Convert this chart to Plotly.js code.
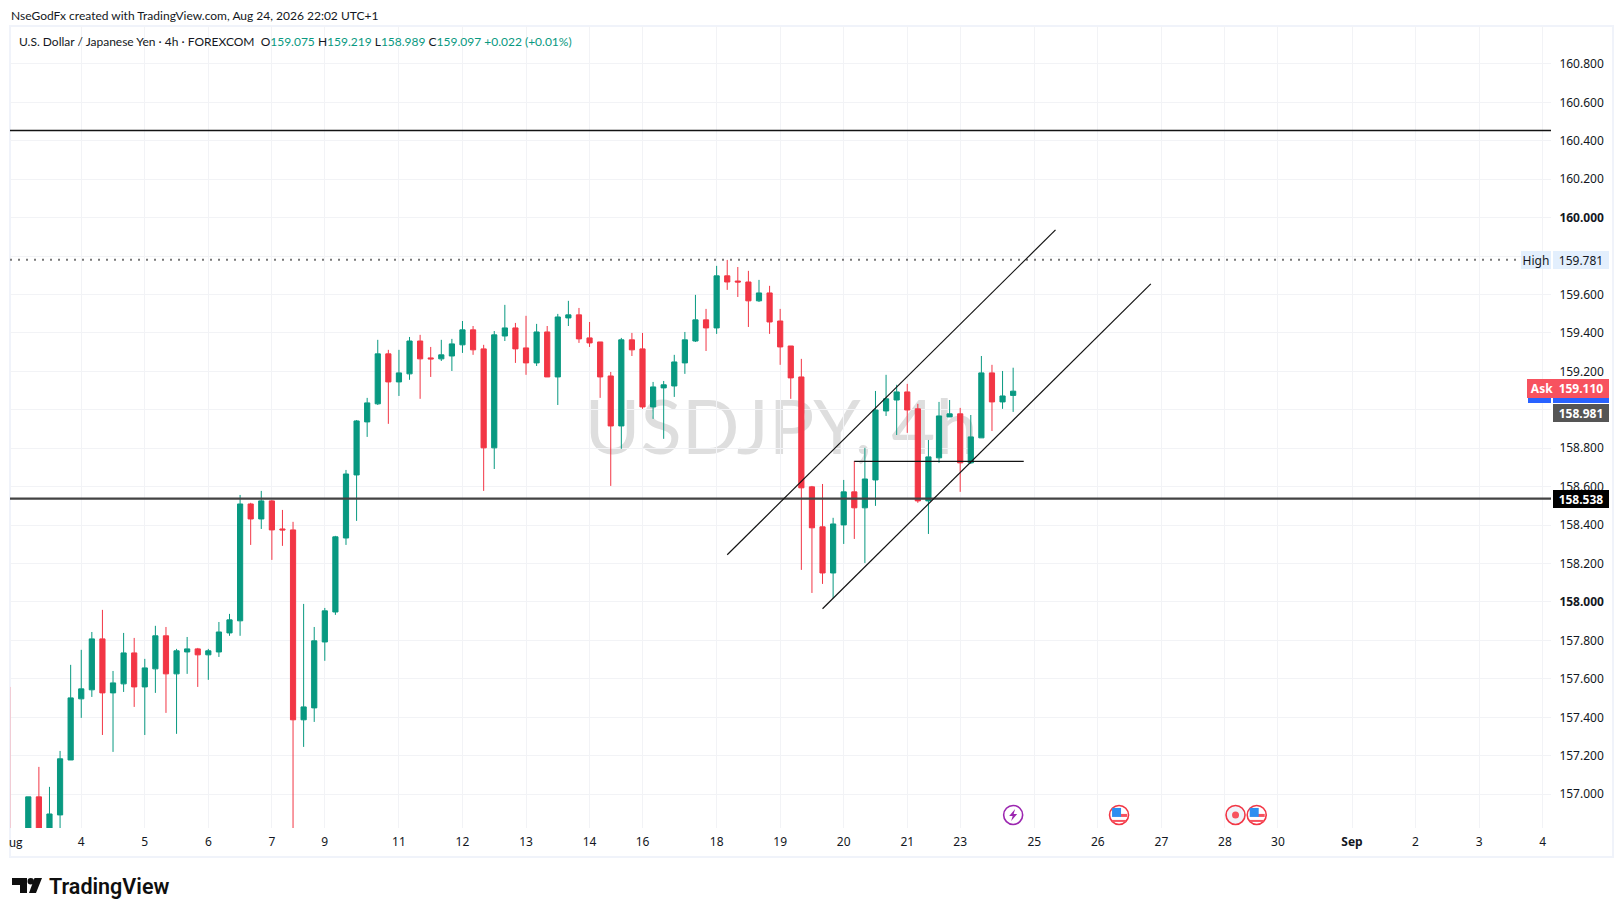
<!DOCTYPE html>
<html><head><meta charset="utf-8">
<script src="https://cdn.plot.ly/plotly-3.0.1.min.js"></script>
<style>html,body{margin:0;padding:0;background:#fff}#c{width:1623px;height:916px}</style>
</head><body><div id="c"></div>
<script>
const candleIndex=[-2,0,1,2,3,4,5,6,7,8,9,10,11,12,13,14,15,16,17,18,19,20,21,22,23,24,25,26,27,28,29,30,31,32,33,34,35,36,37,38,39,40,41,42,43,44,45,46,47,48,49,50,51,52,53,54,55,56,57,58,59,60,61,62,63,64,65,66,67,68,69,70,71,72,73,74,75,76,77,78,79,80,81,82,83,84,85,86,87,88,89,90,91,92,93];
const opens=[157.558,156.72,156.986,156.75,156.892,157.178,157.496,157.543,157.808,157.527,157.574,157.735,157.558,157.652,157.824,157.626,157.740,157.756,157.725,157.740,157.839,157.902,158.510,158.432,158.526,158.380,158.375,157.387,157.449,157.792,157.948,158.333,158.661,158.937,159.031,159.291,159.145,159.187,159.358,159.270,159.265,159.280,159.338,159.416,159.317,158.802,159.384,159.426,159.322,159.244,159.405,159.171,159.478,159.494,159.374,159.353,159.176,158.916,159.364,159.317,159.015,159.114,159.124,159.244,159.358,159.468,159.426,159.697,159.670,159.665,159.567,159.608,159.462,159.332,159.171,158.599,158.391,158.151,158.401,158.573,158.490,158.635,158.994,159.051,159.093,159.005,158.526,158.750,158.963,158.979,158.724,158.854,159.192,159.041,159.075];
const highs=[157.558,156.986,157.142,157.038,157.225,157.673,157.751,157.844,157.959,157.641,157.839,157.813,157.704,157.876,157.870,157.756,157.818,157.761,157.756,157.896,157.938,158.557,158.516,158.578,158.531,158.479,158.417,157.990,157.870,157.969,158.344,158.687,158.947,159.062,159.364,159.312,159.312,159.379,159.390,159.327,159.364,159.369,159.462,159.436,159.338,159.410,159.546,159.452,159.489,159.447,159.436,159.499,159.567,159.530,159.457,159.353,159.197,159.374,159.400,159.400,159.145,159.150,159.286,159.405,159.598,159.525,159.749,159.780,159.743,159.723,159.676,159.645,159.525,159.332,159.265,158.604,158.614,158.438,158.635,158.734,158.802,159.098,159.182,159.130,159.135,159.031,158.843,159.041,159.051,159.010,158.973,159.280,159.234,159.202,159.219];
const lows=[156.70,156.70,156.72,156.72,156.78,157.178,157.397,157.506,157.308,157.220,157.532,157.454,157.308,157.527,157.423,157.314,157.626,157.558,157.595,157.714,157.824,157.824,158.297,158.380,158.219,158.292,156.78,157.246,157.376,157.694,157.933,158.297,158.422,158.859,159.025,158.927,159.072,159.156,159.057,159.171,159.254,159.202,159.296,159.286,158.578,158.692,159.358,159.244,159.182,159.228,159.171,159.025,159.436,159.348,159.327,159.062,158.604,158.797,159.280,159.005,158.953,158.849,159.067,159.187,159.353,159.306,159.395,159.624,159.587,159.431,159.561,159.395,159.234,159.057,158.167,158.047,158.094,158.021,158.302,158.328,158.203,158.500,158.968,158.869,158.880,158.516,158.354,158.724,158.963,158.573,158.718,158.854,158.890,159.005,158.989];
const closes=[156.72,156.986,156.75,156.897,157.184,157.501,157.548,157.808,157.527,157.579,157.735,157.558,157.657,157.824,157.626,157.746,157.756,157.725,157.746,157.844,157.907,158.510,158.432,158.526,158.375,158.375,157.387,157.454,157.798,157.954,158.339,158.666,158.942,159.036,159.291,159.145,159.192,159.358,159.265,159.265,159.286,159.343,159.416,159.312,158.802,159.390,159.426,159.317,159.244,159.405,159.171,159.483,159.494,159.369,159.348,159.171,158.916,159.364,159.312,159.015,159.119,159.130,159.249,159.364,159.468,159.426,159.697,159.665,159.665,159.567,159.608,159.457,159.327,159.166,158.594,158.386,158.151,158.406,158.573,158.490,158.640,158.999,159.057,159.093,158.999,158.526,158.755,158.968,158.979,158.724,158.859,159.192,159.041,159.072,159.097];

const xTickIndex=[5,11,17,23,28,35,41,47,53,58,65,71,77,83,88,95,101,107,113,118,125,131,137,143];
const xTickText=['4','5','6','7','9','11','12','13','14','16','18','19','20','21','23','25','26','27','28','30','<b>Sep</b>','2','3','4'];
const yTicks=[157,157.2,157.4,157.6,157.8,158,158.2,158.4,158.6,158.8,159,159.2,159.4,159.6,159.8,160,160.2,160.4,160.6,160.8];
const yTickText=['157.000','157.200','157.400','157.600','157.800','<b>158.000</b>','158.200','158.400','158.600','158.800','','159.200','159.400','159.600','','<b>160.000</b>','160.200','160.400','160.600','160.800'];

const supportLevel=158.538, resistanceLevel=160.453, highLevel=159.781, shortLevel=158.732;
const upperChannel={i0:66,p0:158.246,i1:97,p1:159.936};
const lowerChannel={i0:75,p0:157.965,i1:106,p1:159.655};
const eventIndex={bolt:93,flagA:103,dot:114,flagB:116};
const eventPrice=156.892;

const W=1623,H=916,L=10,R=72,T=26,B=88;
const px=x=>(x-L)/(W-L-R), py=y=>1-(y-T)/(H-T-B);
const GRID='#f2f3f6', GREEN='#089981', RED='#f23645', INK='#131722';
const FONT='Lato, sans-serif';
const NUMFONT='"Noto Sans", sans-serif';

const line=(i0,p0,i1,p1,color,width,dash)=>({type:'line',xref:'x',yref:'y',x0:i0,x1:i1,y0:p0,y1:p1,line:{color,width,dash:dash||'solid'}});
const fullLine=(p,color,width,dash,endPx)=>({type:'line',xref:'paper',yref:'y',x0:0,x1:endPx?px(endPx):1,y0:p,y1:p,line:{color,width,dash:dash||'solid'}});
const circle=(i,r,fill,stroke,w)=>({type:'circle',xref:'x',yref:'y',xsizemode:'pixel',ysizemode:'pixel',xanchor:i,yanchor:eventPrice,x0:-r,x1:r,y0:-r,y1:r,fillcolor:fill,line:{color:stroke,width:w}});
const icon=(i,path,fill)=>({type:'path',xref:'x',yref:'y',xsizemode:'pixel',ysizemode:'pixel',xanchor:i,yanchor:eventPrice,path,fillcolor:fill,line:{width:0}});
const flag=i=>[circle(i,9.5,'#ffffff','#f23645',1.6),
  icon(i,'M-7,-7 H7 V-5 H-7 Z','#f7525f'),
  icon(i,'M1,1 H8 V-2 H1 Z','#f7525f'),
  icon(i,'M-7,7 H2 V-2 H-7 Z','#2e8ff0')];
const logoPath=`M${px(12)},${py(878)} H${px(27)} V${py(893)} H${px(20)} V${py(885)} H${px(12)} Z`;
const logoSlash=`M${px(34)},${py(893)} L${px(36)},${py(893)} L${px(42)},${py(878)} L${px(34.5)},${py(878)} L${px(29)},${py(893)} Z`;

const shapes=[
 {type:'rect',layer:'below',xref:'x',yref:'y',x0:49.6,x1:92.6,y0:158.43,y1:159.43,line:{width:0},fillcolor:'rgba(0,0,0,0)',
  label:{text:'USDJPY, 4h',textposition:'middle center',font:{family:'Lato, sans-serif',size:76,color:'#dedede'}}},
 {type:'rect',xref:'paper',yref:'paper',x0:px(10),x1:px(1613),y0:py(26),y1:py(857),line:{color:'#f0f3fa',width:2},layer:'below'},
 fullLine(resistanceLevel,'#131313',1.5),
 fullLine(highLevel,'#787878',2,'2px,6px',1521),
 fullLine(supportLevel,'#434343',2.2),
 line(upperChannel.i0,upperChannel.p0,upperChannel.i1,upperChannel.p1,'#131313',1.2),
 line(lowerChannel.i0,lowerChannel.p0,lowerChannel.i1,lowerChannel.p1,'#131313',1.2),
 line(78,shortLevel,94,shortLevel,'#131313',1.2),
 circle(eventIndex.bolt,9.5,'#ffffff','#9c27b0',1.6),
 icon(eventIndex.bolt,'M2,6 L-4,-1 H-0.5 L-2,-6 L4,1 H0.5 Z','#9c27b0'),
 ...flag(eventIndex.flagA),
 circle(eventIndex.dot,9.5,'#f0f3fa','#f23645',1.6),
 circle(eventIndex.dot,3.5,'#f7525f','#f7525f',0),
 ...flag(eventIndex.flagB),
 {type:'path',xref:'paper',yref:'paper',path:logoPath,fillcolor:'#0f0f0f',line:{width:0}},
 {type:'path',xref:'paper',yref:'paper',path:logoSlash,fillcolor:'#0f0f0f',line:{width:0}},
 {type:'circle',xref:'paper',yref:'paper',x0:px(27.5),x1:px(34),y0:py(878),y1:py(884.5),fillcolor:'#0f0f0f',line:{width:0}}
];

const priceLabel=(text,p,x,w,bg,fg,h)=>({xref:'paper',yref:'y',x:px(x),y:p,xanchor:'left',yanchor:'middle',text,showarrow:false,width:w,height:h||18,align:'center',valign:'middle',bgcolor:bg,borderpad:0,borderwidth:0,font:{family:NUMFONT,size:12,color:fg}});
const pageText=(text,x,y,size,color,extra)=>Object.assign({xref:'paper',yref:'paper',x:px(x),y:py(y),xanchor:'left',yanchor:'middle',text,showarrow:false,borderpad:0,font:{family:FONT,size,color}},extra||{});
const g=s=>`<span style="color:${GREEN}">${s}</span>`;

const annotations=[
 pageText('NseGodFx created with TradingView.com, Aug 24, 2026 22:02 UTC+1',10,15,12,INK),
 pageText('U.S. Dollar / Japanese Yen · 4h · FOREXCOM  O'+g('159.075')+' H'+g('159.219')+' L'+g('158.989')+' C'+g('159.097')+' '+g('+0.022 (+0.01%)'),17.5,42,12,INK),
 pageText('ug',8,843,12.5,INK),
 priceLabel('High',highLevel,1521,30,'#e3effd',INK),
 priceLabel('159.781',highLevel,1553,56,'#e3effd',INK),
 priceLabel(' ',159.08,1528,23,'#2962ff','#fff'),
 priceLabel(' ',159.08,1553,56,'#2962ff','#fff'),
 priceLabel('<b>Ask</b>',159.110,1527,30,'#f7525f','#fff',19),
 priceLabel('<b>159.110</b>',159.110,1553,56,'#f7525f','#fff',19),
 priceLabel('<b>158.981</b>',158.981,1553,56,'#555555','#fff'),
 priceLabel('<b>158.538</b>',supportLevel,1553,56,'#000000','#fff'),
 pageText('TradingView',48,886,21.5,'#0f0f0f')
];
annotations[annotations.length-1].font={family:'Roboto, sans-serif',size:21.5,color:'#0f0f0f',weight:600};

const trace={type:'candlestick',x:candleIndex,open:opens,high:highs,low:lows,close:closes,whiskerwidth:0,hoverinfo:'skip',
 increasing:{line:{color:GREEN,width:1},fillcolor:GREEN},decreasing:{line:{color:RED,width:1},fillcolor:RED}};

const layout={width:W,height:H,autosize:false,paper_bgcolor:'#fff',plot_bgcolor:'#fff',showlegend:false,
 margin:{l:L,r:R,t:T,b:B,pad:0},boxgap:0.3,shapes,annotations,font:{family:FONT,size:13,color:INK},
 xaxis:{type:'linear',range:[-1.728,143.79],rangeslider:{visible:false},tickmode:'array',tickvals:xTickIndex,ticktext:xTickText,
  showgrid:true,gridcolor:GRID,gridwidth:1,zeroline:false,showline:false,ticks:'outside',ticklen:3,tickcolor:'rgba(0,0,0,0)',tickfont:{family:NUMFONT,size:12,color:INK},tickangle:0},
 yaxis:{side:'right',range:[156.824,160.997],tickmode:'array',tickvals:yTicks,ticktext:yTickText,
  showgrid:true,gridcolor:GRID,gridwidth:1,zeroline:false,showline:false,ticks:'outside',ticklen:5,tickcolor:'rgba(0,0,0,0)',tickfont:{family:NUMFONT,size:12,color:INK}}
};
Plotly.newPlot('c',[trace],layout,{displayModeBar:false,staticPlot:true});
</script></body></html>
